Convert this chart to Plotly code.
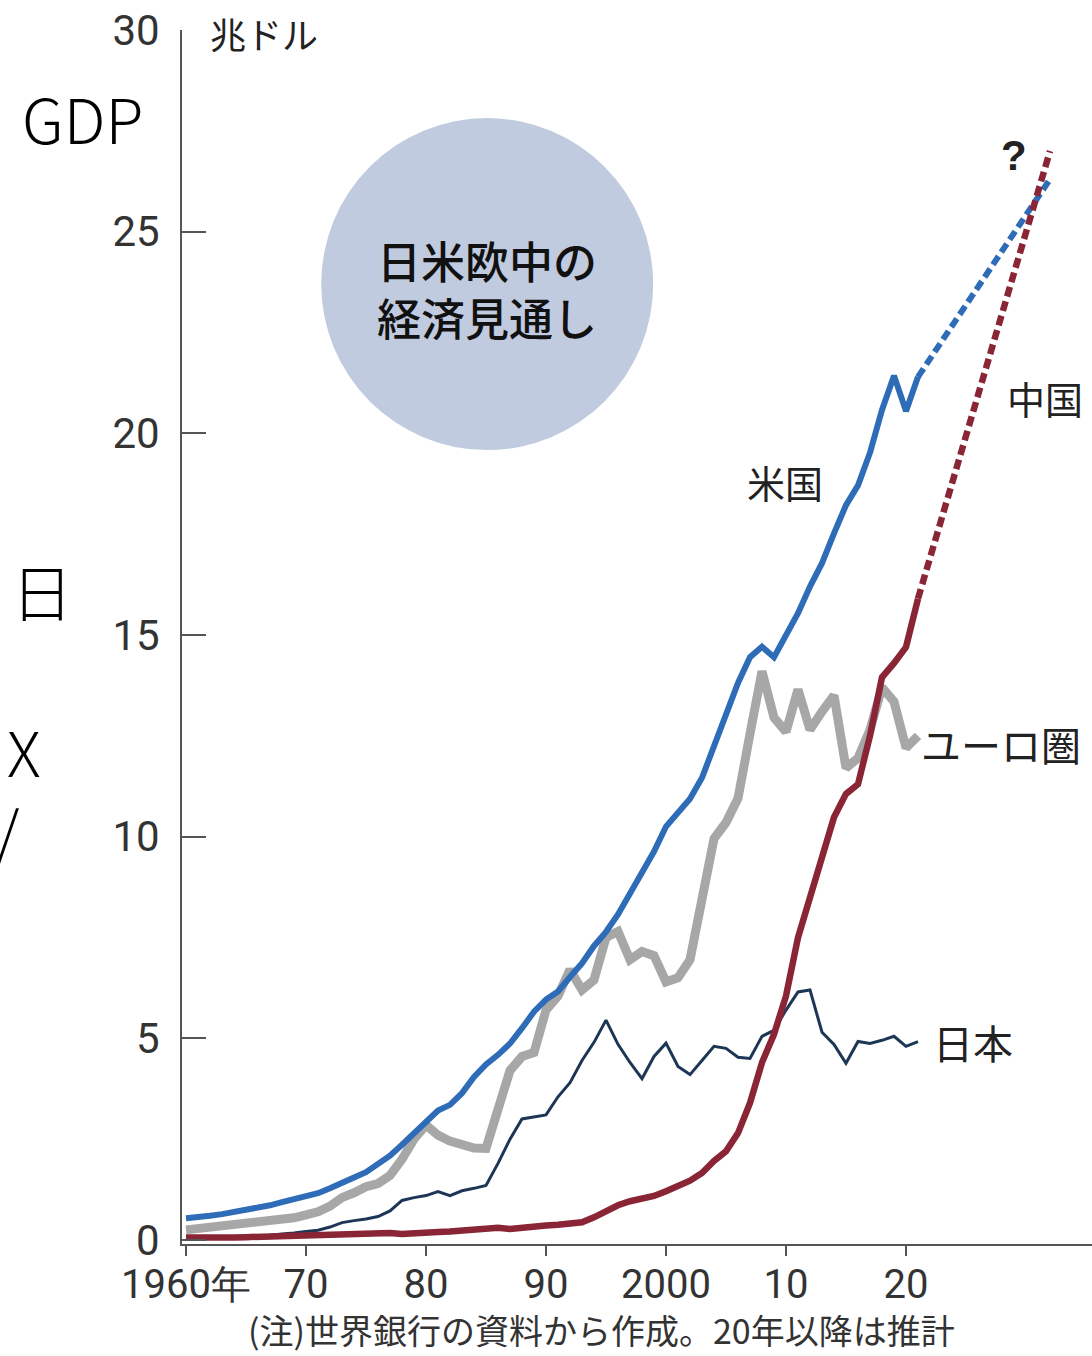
import plotly.graph_objects as go

# ---- data (trillion US$) ----
years = list(range(1960, 2022))

usa = [0.54, 0.56, 0.60, 0.64, 0.69, 0.74, 0.82, 0.86, 0.94, 1.02,
       1.07, 1.16, 1.28, 1.43, 1.55, 1.68, 1.88, 2.09, 2.36, 2.63,
       2.90, 3.21, 3.35, 3.64, 4.04, 4.35, 4.59, 4.87, 5.25, 5.66,
       5.96, 6.16, 6.52, 6.86, 7.29, 7.64, 8.07, 8.58, 9.06, 9.63,
       10.25, 10.58, 10.94, 11.46, 12.21, 13.04, 13.81, 14.45, 14.71, 14.45,
       14.99, 15.54, 16.20, 16.78, 17.52, 18.22, 18.71, 19.52, 20.58, 21.43,
       20.55, 21.40]

euro = [0.25, 0.28, 0.31, 0.34, 0.37, 0.40, 0.43, 0.46, 0.50, 0.55,
        0.62, 0.70, 0.84, 1.05, 1.17, 1.32, 1.40, 1.60, 2.00, 2.50,
        2.85, 2.60, 2.45, 2.35, 2.28, 2.27, 3.30, 4.20, 4.55, 4.65,
        5.70, 6.05, 6.70, 6.20, 6.45, 7.50, 7.65, 6.95, 7.15, 7.05,
        6.40, 6.50, 6.95, 8.40, 9.95, 10.35, 10.95, 12.55, 14.10, 12.95,
        12.60, 13.65, 12.65, 13.10, 13.50, 11.70, 11.95, 12.65, 13.70, 13.35,
        12.20, 12.50]

japan = [0.04, 0.05, 0.06, 0.07, 0.08, 0.09, 0.10, 0.12, 0.15, 0.17,
         0.21, 0.24, 0.32, 0.43, 0.48, 0.52, 0.58, 0.72, 0.98, 1.05,
         1.10, 1.20, 1.10, 1.22, 1.28, 1.35, 1.90, 2.50, 3.00, 3.05,
         3.10, 3.55, 3.90, 4.45, 4.90, 5.45, 4.85, 4.40, 4.00, 4.55,
         4.88, 4.30, 4.10, 4.45, 4.80, 4.75, 4.53, 4.50, 5.05, 5.20,
         5.70, 6.15, 6.20, 5.15, 4.85, 4.38, 4.92, 4.87, 4.95, 5.05,
         4.80, 4.92]

china = [0.06, 0.05, 0.05, 0.05, 0.06, 0.07, 0.08, 0.07, 0.07, 0.08,
         0.09, 0.10, 0.11, 0.14, 0.14, 0.16, 0.15, 0.17, 0.15, 0.18,
         0.19, 0.20, 0.21, 0.23, 0.26, 0.31, 0.30, 0.27, 0.31, 0.35,
         0.36, 0.38, 0.43, 0.44, 0.56, 0.73, 0.86, 0.96, 1.03, 1.09,
         1.21, 1.34, 1.47, 1.66, 1.96, 2.20, 2.65, 3.40, 4.40, 5.10,
         6.05, 7.50, 8.50, 9.60, 10.48, 11.06, 11.30, 12.50, 13.95, 14.30,
         14.70, 15.90]

# projections (dashed)
proj_years = [2021, 2032]
usa_proj = [21.40, 26.3]
china_proj = [15.90, 27.0]

x_tickvals = [1960, 1970, 1980, 1990, 2000, 2010, 2020]
x_ticktext = ["1960年", "70", "80", "90", "2000", "10", "20"]
y_tickvals = [0, 5, 10, 15, 20, 25, 30]

# ---- styling ----
C_US = "#2e6cb8"
C_CN = "#8a2536"
C_EU = "#a7a7a7"
C_JP = "#1d3656"
AXIS = "#555555"
TXT = "#222222"
NUM_FONT = "Roboto, Liberation Sans, sans-serif"
JP_FONT = "Noto Sans CJK JP, sans-serif"

ML, MR, MT, MB = 182, 0, 30, 112
W, H = 1092, 1356
PW, PH = W - ML - MR, H - MT - MB


def paper(px, py):
    """pixel position on the page -> paper coordinates"""
    return (px - ML) / PW, (H - MB - py) / PH


fig = go.Figure()

fig.add_trace(go.Scatter(x=years, y=euro, mode="lines",
                         line=dict(color=C_EU, width=9), hoverinfo="skip"))
fig.add_trace(go.Scatter(x=years, y=japan, mode="lines",
                         line=dict(color=C_JP, width=3), hoverinfo="skip"))
fig.add_trace(go.Scatter(x=years, y=usa, mode="lines",
                         line=dict(color=C_US, width=6), hoverinfo="skip"))
fig.add_trace(go.Scatter(x=proj_years, y=usa_proj, mode="lines",
                         line=dict(color=C_US, width=6, dash="10px,5px"),
                         hoverinfo="skip"))
fig.add_trace(go.Scatter(x=years, y=china, mode="lines",
                         line=dict(color=C_CN, width=6.5), hoverinfo="skip"))
fig.add_trace(go.Scatter(x=proj_years, y=china_proj, mode="lines",
                         line=dict(color=C_CN, width=6.5, dash="10px,5px"),
                         hoverinfo="skip"))

# title bubble
fig.add_shape(type="circle", xref="x", yref="y",
              xsizemode="pixel", ysizemode="pixel",
              xanchor=1985.1, yanchor=23.7,
              x0=-166, x1=166, y0=-166, y1=166,
              fillcolor="#c1cbdf", line=dict(width=0), layer="below")

annotations = [
    dict(x=1985.1, y=23.6, xref="x", yref="y", showarrow=False,
         text="日米欧中の<br>経済見通し",
         font=dict(family=JP_FONT, size=44, color="#111111", weight=500)),
    dict(x=2009.9, y=18.8, xref="x", yref="y", showarrow=False, text="米国",
         font=dict(family=JP_FONT, size=38, color=TXT)),
    dict(x=2031.6, y=20.9, xref="x", yref="y", showarrow=False, text="中国",
         font=dict(family=JP_FONT, size=38, color=TXT)),
    dict(x=2027.9, y=12.3, xref="x", yref="y", showarrow=False, text="ユーロ圏",
         font=dict(family=JP_FONT, size=40, color=TXT)),
    dict(x=2025.6, y=4.9, xref="x", yref="y", showarrow=False, text="日本",
         font=dict(family=JP_FONT, size=40, color=TXT)),
    dict(x=2029.0, y=26.9, xref="x", yref="y", showarrow=False, text="<b>?</b>",
         font=dict(family="Liberation Sans, sans-serif", size=42, color=TXT)),
]

# unit label next to the top tick
ux, uy = paper(208, 33)
annotations.append(dict(x=ux, y=uy, xref="paper", yref="paper", showarrow=False,
                        xanchor="left", yanchor="middle", text="兆ドル",
                        font=dict(family=JP_FONT, size=36, color=TXT)))

# source note
nx, ny = paper(601, 1329)
annotations.append(dict(x=nx, y=ny, xref="paper", yref="paper", showarrow=False,
                        xanchor="center", yanchor="middle",
                        text="(注)世界銀行の資料から作成。20年以降は推計",
                        font=dict(family=JP_FONT, size=34, color="#333333")))

# side captions
for label, px, py, anchor in [("GDP", 20, 117, "left"), ("日", 42, 590, "center"),
                              ("X", 24, 750, "center"), ("/", 7, 830, "center")]:
    ax, ay = paper(px, py)
    annotations.append(dict(x=ax, y=ay, xref="paper", yref="paper", showarrow=False,
                            xanchor=anchor, yanchor="middle", text=label,
                            font=dict(family=JP_FONT, size=62, color="#000000",
                                      weight=300)))

fig.update_layout(
    width=W, height=H,
    margin=dict(l=ML, r=MR, t=MT, b=MB),
    paper_bgcolor="white", plot_bgcolor="white",
    showlegend=False,
    annotations=annotations,
    xaxis=dict(range=[1960 - 4 / 12, 1960 + (W - 186) / 12],
               tickvals=x_tickvals, ticktext=x_ticktext,
               showgrid=False, zeroline=False,
               showline=True, linecolor=AXIS, linewidth=2,
               ticks="outside", ticklen=10, tickwidth=2, tickcolor=AXIS,
               ticklabelstandoff=-6,
               tickfont=dict(family=NUM_FONT, size=40, color="#333333")),
    yaxis=dict(range=[-0.1, 30], tickvals=y_tickvals,
               showgrid=False, zeroline=False,
               showline=True, linecolor=AXIS, linewidth=2,
               ticks="inside", ticklen=24, tickwidth=2, tickcolor=AXIS,
               ticklabelstandoff=12,
               tickfont=dict(family=NUM_FONT, size=42, color="#333333")),
)

fig.write_html("out.html")
